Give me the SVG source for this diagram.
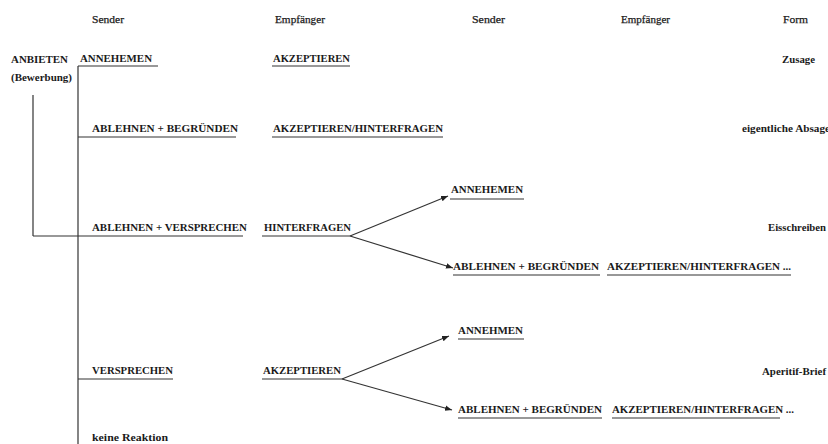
<svg xmlns="http://www.w3.org/2000/svg" width="828" height="444" viewBox="0 0 828 444">
<style>
text{font-family:'Liberation Serif',serif;font-size:11px;fill:#1a1a1a;font-weight:bold;}
.h{font-weight:normal;stroke:#1a1a1a;stroke-width:0.25;}
.ln{stroke:#333;stroke-width:1.2;fill:none;}
.ar{stroke:#333;stroke-width:1.2;fill:none;marker-end:url(#ah);}
</style>
<defs>
<marker id="ah" viewBox="0 0 10 10" refX="10" refY="5" markerWidth="7" markerHeight="7" markerUnits="userSpaceOnUse" orient="auto">
<path d="M0,1 L10,5 L0,9 Z" fill="#222"/>
</marker>
</defs>
<rect width="828" height="444" fill="#fff"/>
<g id="headers">
<text class="h" x="92" y="23" textLength="32" lengthAdjust="spacingAndGlyphs">Sender</text>
<text class="h" x="275" y="23" textLength="50" lengthAdjust="spacingAndGlyphs">Empfänger</text>
<text class="h" x="472" y="23" textLength="33" lengthAdjust="spacingAndGlyphs">Sender</text>
<text class="h" x="621" y="23" textLength="49" lengthAdjust="spacingAndGlyphs">Empfänger</text>
<text class="h" x="783" y="23" textLength="25" lengthAdjust="spacingAndGlyphs">Form</text>
</g>
<g id="connectors">
<line class="ln" x1="78" y1="66" x2="78" y2="444"/>
<line class="ln" x1="33" y1="95" x2="33" y2="236"/>
<line class="ln" x1="33" y1="236" x2="243" y2="236"/>
<line class="ln" x1="78" y1="66" x2="158" y2="66"/>
<line class="ln" x1="272" y1="66" x2="350" y2="66"/>
<line class="ln" x1="78" y1="137" x2="236" y2="137"/>
<line class="ln" x1="272" y1="137" x2="443" y2="137"/>
<line class="ln" x1="262" y1="236" x2="350" y2="236"/>
<line class="ln" x1="450" y1="199" x2="524" y2="199"/>
<line class="ln" x1="453" y1="275" x2="600" y2="275"/>
<line class="ln" x1="607" y1="275" x2="791" y2="275"/>
<line class="ln" x1="78" y1="379" x2="173" y2="379"/>
<line class="ln" x1="262" y1="379" x2="342" y2="379"/>
<line class="ln" x1="458" y1="339" x2="524" y2="339"/>
<line class="ln" x1="458" y1="418" x2="602" y2="418"/>
<line class="ln" x1="612" y1="418" x2="780" y2="418"/>
<line class="ar" x1="350" y1="236" x2="448" y2="196"/>
<line class="ar" x1="350" y1="236" x2="453" y2="268"/>
<line class="ar" x1="342" y1="379" x2="449" y2="336"/>
<line class="ar" x1="342" y1="379" x2="452" y2="410"/>
</g>
<g id="anbieten">
<text x="11" y="63" textLength="57" lengthAdjust="spacingAndGlyphs">ANBIETEN</text>
<text x="11" y="81" textLength="61" lengthAdjust="spacingAndGlyphs">(Bewerbung)</text>
</g>
<g id="row1">
<text x="80" y="62" textLength="72" lengthAdjust="spacingAndGlyphs">ANNEHEMEN</text>
<text x="273" y="62" textLength="77" lengthAdjust="spacingAndGlyphs">AKZEPTIEREN</text>
<text x="782" y="63" textLength="33" lengthAdjust="spacingAndGlyphs">Zusage</text>
</g>
<g id="row2">
<text x="92" y="132" textLength="146" lengthAdjust="spacingAndGlyphs">ABLEHNEN  + BEGRÜNDEN</text>
<text x="273" y="132" textLength="170" lengthAdjust="spacingAndGlyphs">AKZEPTIEREN/HINTERFRAGEN</text>
<text x="742" y="132" textLength="88" lengthAdjust="spacingAndGlyphs">eigentliche Absage</text>
</g>
<g id="row3">
<text x="92" y="231" textLength="155" lengthAdjust="spacingAndGlyphs">ABLEHNEN + VERSPRECHEN</text>
<text x="264" y="231" textLength="87" lengthAdjust="spacingAndGlyphs">HINTERFRAGEN</text>
<text x="451" y="193" textLength="72" lengthAdjust="spacingAndGlyphs">ANNEHEMEN</text>
<text x="768" y="231" textLength="58" lengthAdjust="spacingAndGlyphs">Eisschreiben</text>
<text x="453" y="270" textLength="146" lengthAdjust="spacingAndGlyphs">ABLEHNEN + BEGRÜNDEN</text>
<text x="607" y="270" textLength="184" lengthAdjust="spacingAndGlyphs">AKZEPTIEREN/HINTERFRAGEN ...</text>
</g>
<g id="row4">
<text x="92" y="374" textLength="81" lengthAdjust="spacingAndGlyphs">VERSPRECHEN</text>
<text x="263" y="374" textLength="78" lengthAdjust="spacingAndGlyphs">AKZEPTIEREN</text>
<text x="458" y="334" textLength="65" lengthAdjust="spacingAndGlyphs">ANNEHMEN</text>
<text x="762" y="375" textLength="64" lengthAdjust="spacingAndGlyphs">Aperitif-Brief</text>
<text x="458" y="413" textLength="144" lengthAdjust="spacingAndGlyphs">ABLEHNEN + BEGRÜNDEN</text>
<text x="612" y="413" textLength="182" lengthAdjust="spacingAndGlyphs">AKZEPTIEREN/HINTERFRAGEN ...</text>
</g>
<g id="row5">
<text x="92" y="441" textLength="76" lengthAdjust="spacingAndGlyphs">keine Reaktion</text>
</g>
</svg>
